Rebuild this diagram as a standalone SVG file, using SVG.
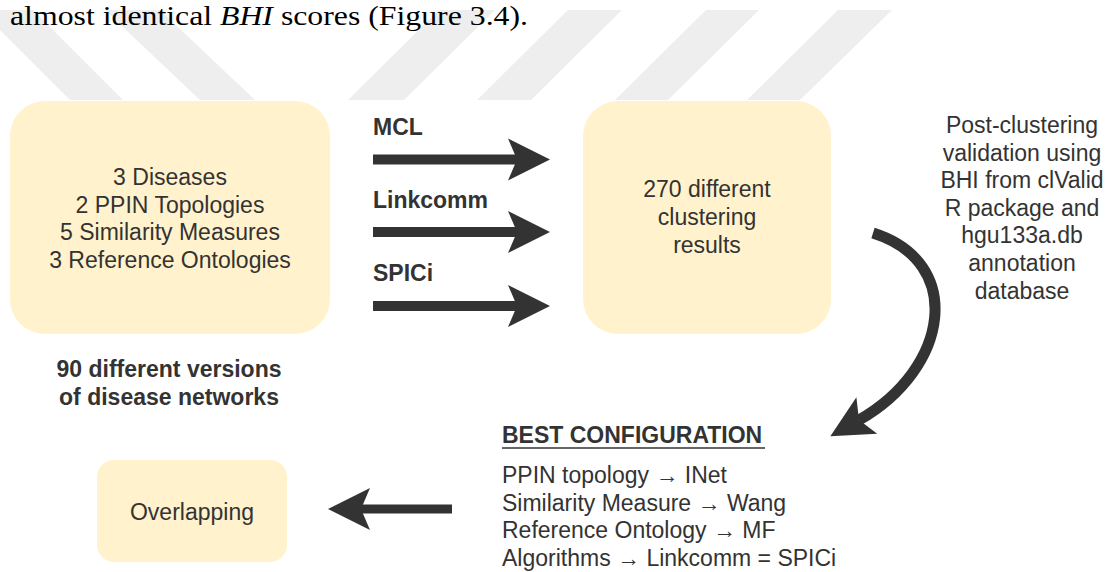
<svg xmlns="http://www.w3.org/2000/svg" width="1114" height="572" viewBox="0 0 1114 572">
  <style>
    .box { fill: #fff2cc; stroke: none; }
    .t { font-family: "Liberation Sans", Arial, sans-serif; font-size: 23px; fill: #333333; }
    .c { text-anchor: middle; }
    .b { font-weight: bold; }
    .arrow { fill: none; stroke: #333333; stroke-linecap: butt; marker-end: url(#head); }
    .wm { fill: #eeeeee; }
  </style>
  <defs>
    <marker id="head" markerUnits="userSpaceOnUse" markerWidth="42" markerHeight="42" refX="9" refY="21" orient="auto" overflow="visible">
      <path d="M0,0 L42,21 L0,42 L9,21 Z" fill="#333333"/>
    </marker>
  </defs>
  <rect width="1114" height="572" fill="#ffffff"/>

  <g id="watermark">
    <polygon class="wm" points="-20,10 33,10 123,100 70,100"/>
    <polygon class="wm" points="105,10 160,10 255,100 200,100"/>
    <polygon class="wm" points="439,10 495,10 404,100 348,100"/>
    <polygon class="wm" points="568,10 622,10 531,100 477,100"/>
    <polygon class="wm" points="706,10 759,10 668,100 615,100"/>
    <polygon class="wm" points="838,10 892,10 800,100 747,100"/>
  </g>

  <text x="10" y="24.5" font-family="'Liberation Serif', 'Times New Roman', serif" font-size="27" fill="#000000" textLength="518" lengthAdjust="spacingAndGlyphs">almost identical <tspan font-style="italic">BHI</tspan> scores (Figure 3.4).</text>

  <g id="networks">
    <rect class="box" x="10" y="101" width="320" height="233" rx="35"/>
    <text class="t c" x="170" y="185">3 Diseases</text>
    <text class="t c" x="170" y="212.5">2 PPIN Topologies</text>
    <text class="t c" x="170" y="240">5 Similarity Measures</text>
    <text class="t c" x="170" y="267.5">3 Reference Ontologies</text>
  </g>

  <g id="versions-label">
    <text class="t c b" x="169" y="377">90 different versions</text>
    <text class="t c b" x="169" y="405">of disease networks</text>
  </g>

  <g id="results">
    <rect class="box" x="583" y="101" width="248" height="233" rx="35"/>
    <text class="t c" x="707" y="197">270 different</text>
    <text class="t c" x="707" y="225">clustering</text>
    <text class="t c" x="707" y="253">results</text>
  </g>

  <g id="validation-label">
    <text class="t c" x="1022" y="133">Post-clustering</text>
    <text class="t c" x="1022" y="160.6">validation using</text>
    <text class="t c" x="1022" y="188.2">BHI from clValid</text>
    <text class="t c" x="1022" y="215.8">R package and</text>
    <text class="t c" x="1022" y="243.4">hgu133a.db</text>
    <text class="t c" x="1022" y="271">annotation</text>
    <text class="t c" x="1022" y="298.6">database</text>
  </g>

  <g id="best-config">
    <text class="t b" x="502" y="443">BEST CONFIGURATION</text>
    <line x1="502" y1="448" x2="765" y2="448" stroke="#333333" stroke-width="1.6"/>
    <text class="t" x="502" y="483">PPIN topology → INet</text>
    <text class="t" x="502" y="510.5">Similarity Measure → Wang</text>
    <text class="t" x="502" y="538">Reference Ontology → MF</text>
    <text class="t" x="502" y="565.5">Algorithms → Linkcomm = SPICi</text>
  </g>

  <g id="overlapping">
    <rect class="box" x="97" y="460" width="190" height="102" rx="17"/>
    <text class="t c" x="192" y="520">Overlapping</text>
  </g>

  <g id="connectors">
    <text class="t b" x="373" y="135">MCL</text>
    <path class="arrow" stroke-width="10" d="M373,159.5 H517"/>
    <text class="t b" x="373" y="208">Linkcomm</text>
    <path class="arrow" stroke-width="10" d="M373,232 H517"/>
    <text class="t b" x="373" y="281">SPICi</text>
    <path class="arrow" stroke-width="10" d="M373,306 H517"/>
    <path class="arrow" stroke-width="11" d="M873,233 C965,262 950,368 859,420"/>
    <path class="arrow" stroke-width="9" d="M452,509 H361"/>
  </g>
</svg>
